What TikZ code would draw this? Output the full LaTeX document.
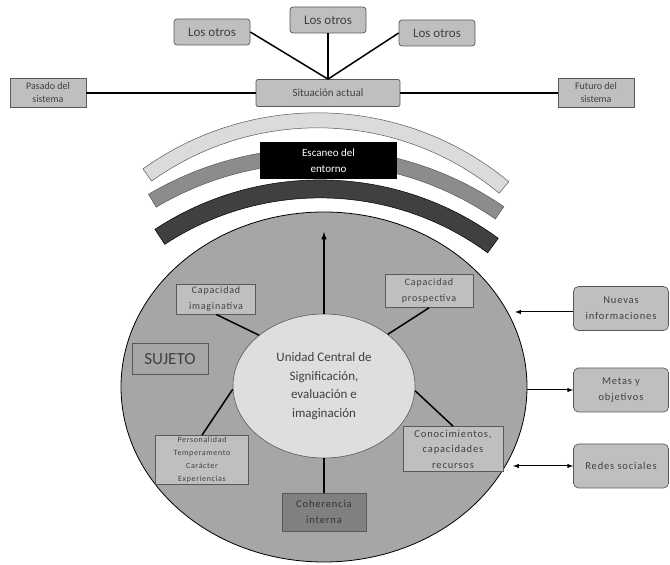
\documentclass[tikz,border=0pt]{standalone}
\usepackage{fontspec}
\setmainfont{Carlito}
\newfontfamily\spaced[LetterSpace=8]{Carlito}
\usetikzlibrary{arrows,positioning,shapes.geometric}
\definecolor{boxgray}{gray}{0.75}
\definecolor{ringgray}{gray}{0.65}
\definecolor{coregray}{gray}{0.87}
\definecolor{cohgray}{gray}{0.5}
\definecolor{edgegray}{gray}{0.35}
\definecolor{txtgray}{gray}{0.25}
\definecolor{arclight}{gray}{0.86}
\definecolor{arcmid}{gray}{0.55}
\definecolor{arcdark}{gray}{0.25}

\begin{document}
\begin{tikzpicture}[x=1pt,y=1pt,node distance=73pt,on grid,>=latex]
       \tikzstyle{box}=[draw=edgegray,fill=boxgray,text=txtgray,align=center,inner sep=1pt,line width=0.7pt]
       \tikzstyle{otro}=[box,rounded corners=3pt,minimum width=76pt,minimum height=26pt,font=\fontsize{13}{15}\selectfont]
       \tikzstyle{sisbox}=[box,minimum width=76pt,minimum height=29pt,font=\fontsize{10}{13}\selectfont]
       \tikzstyle{inbox}=[box,font=\spaced\fontsize{10}{15.5}\selectfont]
       \tikzstyle{ext}=[box,rounded corners=5pt,minimum width=95pt,minimum height=44pt,font=\spaced\fontsize{10.5}{15.7}\selectfont]
       \tikzstyle{link}=[line width=1.5pt]
       \useasboundingbox (0,0) rectangle (670,565);

       % linea del tiempo
       \node[box,rounded corners=2pt,minimum width=144pt,minimum height=27pt,font=\fontsize{11}{13}\selectfont] (sit) at (328,472) {Situación actual};
       \node[otro] (lo2) [above of=sit] {Los otros};
       \node[otro] (lo1) at (212,533) {Los otros};
       \node[otro] (lo3) at (437,532) {Los otros};
       \node[sisbox] (pas) [left of=sit, node distance=280pt] {Pasado del\\sistema};
       \node[sisbox] (fut) [right of=sit, node distance=268pt] {Futuro del\\sistema};

       \path[link]
       (lo1.east) edge (sit.north)
       (lo2.south) edge (sit.north)
       (lo3.west) edge (sit.north)
       (pas) edge (sit)
       (sit) edge (fut);

       % arcos del entorno
       \begin{scope}[rotate around={-2:(328,452)}]
         \filldraw[fill=arclight,draw=edgegray,line width=0.5pt] (328,152) ++(52.4:300) arc[start angle=52.4,end angle=127.6,radius=300]
           -- ++(127.6:-15) arc[start angle=127.6,end angle=52.4,radius=285] -- cycle;
       \end{scope}
       \begin{scope}[rotate around={-2:(328,416.5)}]
         \filldraw[fill=arcmid,draw=edgegray,line width=0.5pt] (328,86.5) ++(57.4:330) arc[start angle=57.4,end angle=122.6,radius=330]
           -- ++(122.6:-15) arc[start angle=122.6,end angle=57.4,radius=315] -- cycle;
       \end{scope}
       \begin{scope}[rotate around={-1.5:(328,385)}]
         \filldraw[fill=arcdark,draw=black,line width=0.5pt] (328,84) ++(55.2:301) arc[start angle=55.2,end angle=124.8,radius=301]
           -- ++(124.8:-18) arc[start angle=124.8,end angle=55.2,radius=283] -- cycle;
       \end{scope}
       \node[fill=black,text=white,align=center,minimum width=137pt,minimum height=37pt,inner sep=1pt,font=\fontsize{11}{16}\selectfont] (esc) at (328.5,404.5) {Escaneo del\\entorno};

       % sujeto
       \node[ellipse,draw=black,fill=ringgray,line width=0.8pt,minimum width=406pt,minimum height=350pt] (sub) at (324,178) {};
       \node[ellipse,draw=edgegray,fill=coregray,line width=0.6pt,minimum width=182pt,minimum height=144pt,align=center,text=txtgray,font=\fontsize{13}{18.5}\selectfont] (uc) at (324,179) {Unidad Central de\\Significación,\\evaluación e\\imaginación};

       \node[inbox,minimum width=79pt,minimum height=30pt] (capimg) at (216,266) {Capacidad\\imaginativa};
       \node[inbox,minimum width=88pt,minimum height=33pt] (cappro) at (429,274) {Capacidad\\prospectiva};
       \node[box,fill=none,minimum width=76pt,minimum height=31pt,font=\fontsize{17}{19}\selectfont] (suj) at (170,206) {SUJETO};
       \node[inbox,minimum width=93pt,minimum height=49pt,font=\spaced\fontsize{8}{12.9}\selectfont] (pers) at (202,105) {Personalidad\\Temperamento\\Carácter\\Experiencias};
       \node[inbox,minimum width=100pt,minimum height=45pt,font=\spaced\fontsize{10.5}{15.5}\selectfont] (conoc) at (453,116) {Conocimientos,\\capacidades\\recursos};
       \node[inbox,fill=cohgray,text=black!80,minimum width=84pt,minimum height=38pt,font=\spaced\fontsize{10.5}{16}\selectfont] (coher) at (324,53) {Coherencia\\interna};

       \coordinate (tip) at (324,333);
       \draw[link,->] (uc.north) -- (tip);
       \path[link]
       (capimg.south) edge (uc.142)
       (cappro.south) edge (uc.39)
       (pers.north) edge (uc.182)
       (conoc.north) edge (uc.357)
       (coher.north) edge (uc.south);

       % entradas externas
       \node[ext] (nuev) at (621,256.5) {Nuevas\\informaciones};
       \node[ext] (metas) [below of=nuev, node distance=81.5pt] {Metas y\\objetivos};
       \node[ext] (redes) [below of=metas, node distance=76pt] {Redes sociales};

       \coordinate (nin) at (515,253);
       \coordinate (rin) at (513,99);
       \draw[line width=1pt,->] (nuev.west |- nin) -- (nin);
       \draw[line width=1pt,->] (metas.west -| sub.east) -- (metas.west);
       \draw[line width=1pt,<->] (rin) -- (redes.west |- rin);
\end{tikzpicture}
\end{document}
